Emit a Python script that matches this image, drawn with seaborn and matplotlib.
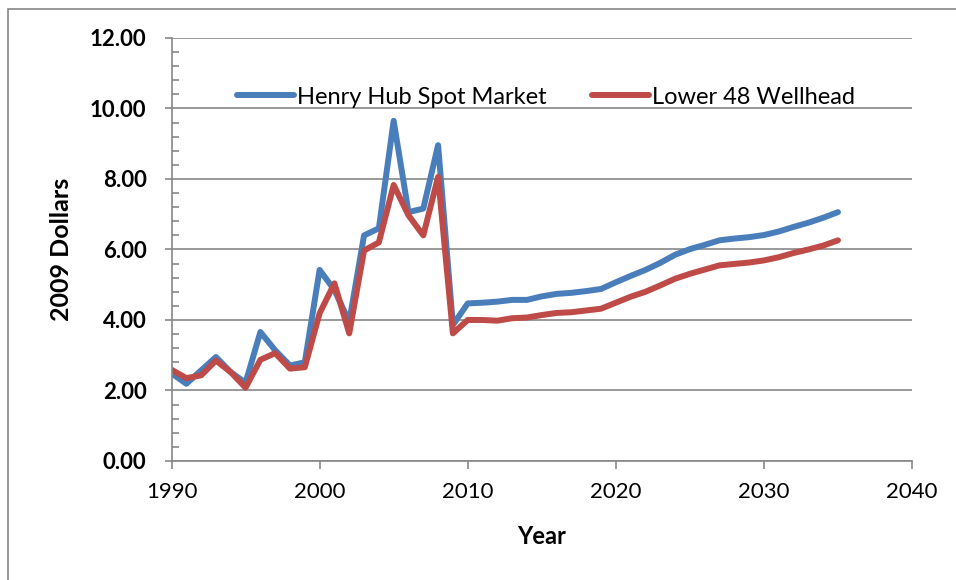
#import packages
import pandas as pd
import matplotlib
matplotlib.use("Agg")
import matplotlib.pyplot as plt
from matplotlib.patches import Rectangle
from matplotlib.ticker import MultipleLocator, FormatStrFormatter
import seaborn as sns

#data (2009 dollars per thousand cubic feet)
years = list(range(1990, 2036))
henry_hub = [2.49, 2.19, 2.57, 2.95, 2.52, 2.22, 3.66, 3.14, 2.71, 2.80,
             5.42, 4.85, 3.95, 6.40, 6.60, 9.65, 7.06, 7.16, 8.96, 3.86,
             4.47, 4.49, 4.52, 4.57, 4.57, 4.67, 4.74, 4.77, 4.82, 4.88,
             5.07, 5.25, 5.42, 5.62, 5.85, 6.01, 6.13, 6.26, 6.31, 6.35,
             6.41, 6.51, 6.64, 6.76, 6.90, 7.06]
wellhead = [2.59, 2.35, 2.43, 2.85, 2.52, 2.08, 2.87, 3.06, 2.62, 2.66,
            4.19, 5.04, 3.62, 5.97, 6.20, 7.83, 6.97, 6.40, 8.06, 3.62,
            4.00, 4.00, 3.98, 4.05, 4.07, 4.14, 4.20, 4.22, 4.27, 4.32,
            4.49, 4.66, 4.80, 4.98, 5.17, 5.31, 5.43, 5.55, 5.59, 5.63,
            5.69, 5.78, 5.90, 6.00, 6.11, 6.26]
labels = ["Henry Hub Spot Market", "Lower 48 Wellhead"]
colors = ["#4A7EBB", "#BE4B48"]

prices = pd.DataFrame({"year": years, labels[0]: henry_hub, labels[1]: wellhead})

#style
sns.set_theme(style="white")
plt.rcParams['font.family'] = ['Lato', 'DejaVu Sans']
grey = "#878787"

fig = plt.figure(figsize=(9.56, 5.8), dpi=100)
ax = fig.add_axes([0.1794, 0.2052, 0.954 - 0.1794, 0.9345 - 0.2052])

#outer chart frame (runs off the right and bottom edges)
fig.patches.append(Rectangle((8 / 956, -0.05), 1.2, 1 - 9 / 580 + 0.05,
                             transform=fig.transFigure, fill=False,
                             edgecolor=grey, linewidth=1.2))

for name, col in zip(labels, colors):
    sns.lineplot(data=prices, x="year", y=name, color=col, linewidth=4.3,
                 label=name, ax=ax, solid_joinstyle="round", solid_capstyle="round")

ax.set_xlim(1990, 2040)
ax.set_ylim(0, 12)
ax.xaxis.set_major_locator(MultipleLocator(10))
ax.yaxis.set_major_locator(MultipleLocator(2))
ax.yaxis.set_minor_locator(MultipleLocator(0.4))
ax.yaxis.set_major_formatter(FormatStrFormatter("%.2f"))

ax.grid(axis="y", color=grey, linewidth=1.2)
ax.grid(axis="x", visible=False)
sns.despine(ax=ax)
for s in ["left", "bottom"]:
    ax.spines[s].set_color(grey)
    ax.spines[s].set_linewidth(1.2)

ax.tick_params(axis="x", which="major", direction="out", length=6, width=1.2,
               color=grey, labelsize=16, pad=9, bottom=True, labelcolor="black")
ax.tick_params(axis="y", which="major", direction="out", length=5, width=1.2,
               color=grey, labelsize=16, pad=13, left=True, labelcolor="black")
ax.tick_params(axis="y", which="minor", direction="in", length=5, width=1.2,
               color=grey, left=True)
for t in ax.get_yticklabels():
    t.set_fontweight("bold")

ax.set_xlabel("Year", fontsize=17, fontweight="bold", labelpad=17, color="black")
ax.set_ylabel("2009 Dollars", fontsize=18, fontweight="bold", labelpad=12, color="black")

leg = ax.legend(ncol=2, loc="center", bbox_to_anchor=(0.506, 0.86), frameon=False,
                fontsize=17, handlelength=2.4, handletextpad=0.15, columnspacing=1.9)
for t in leg.get_texts():
    t.set_color("black")

plt.savefig("out.png", dpi=100)
